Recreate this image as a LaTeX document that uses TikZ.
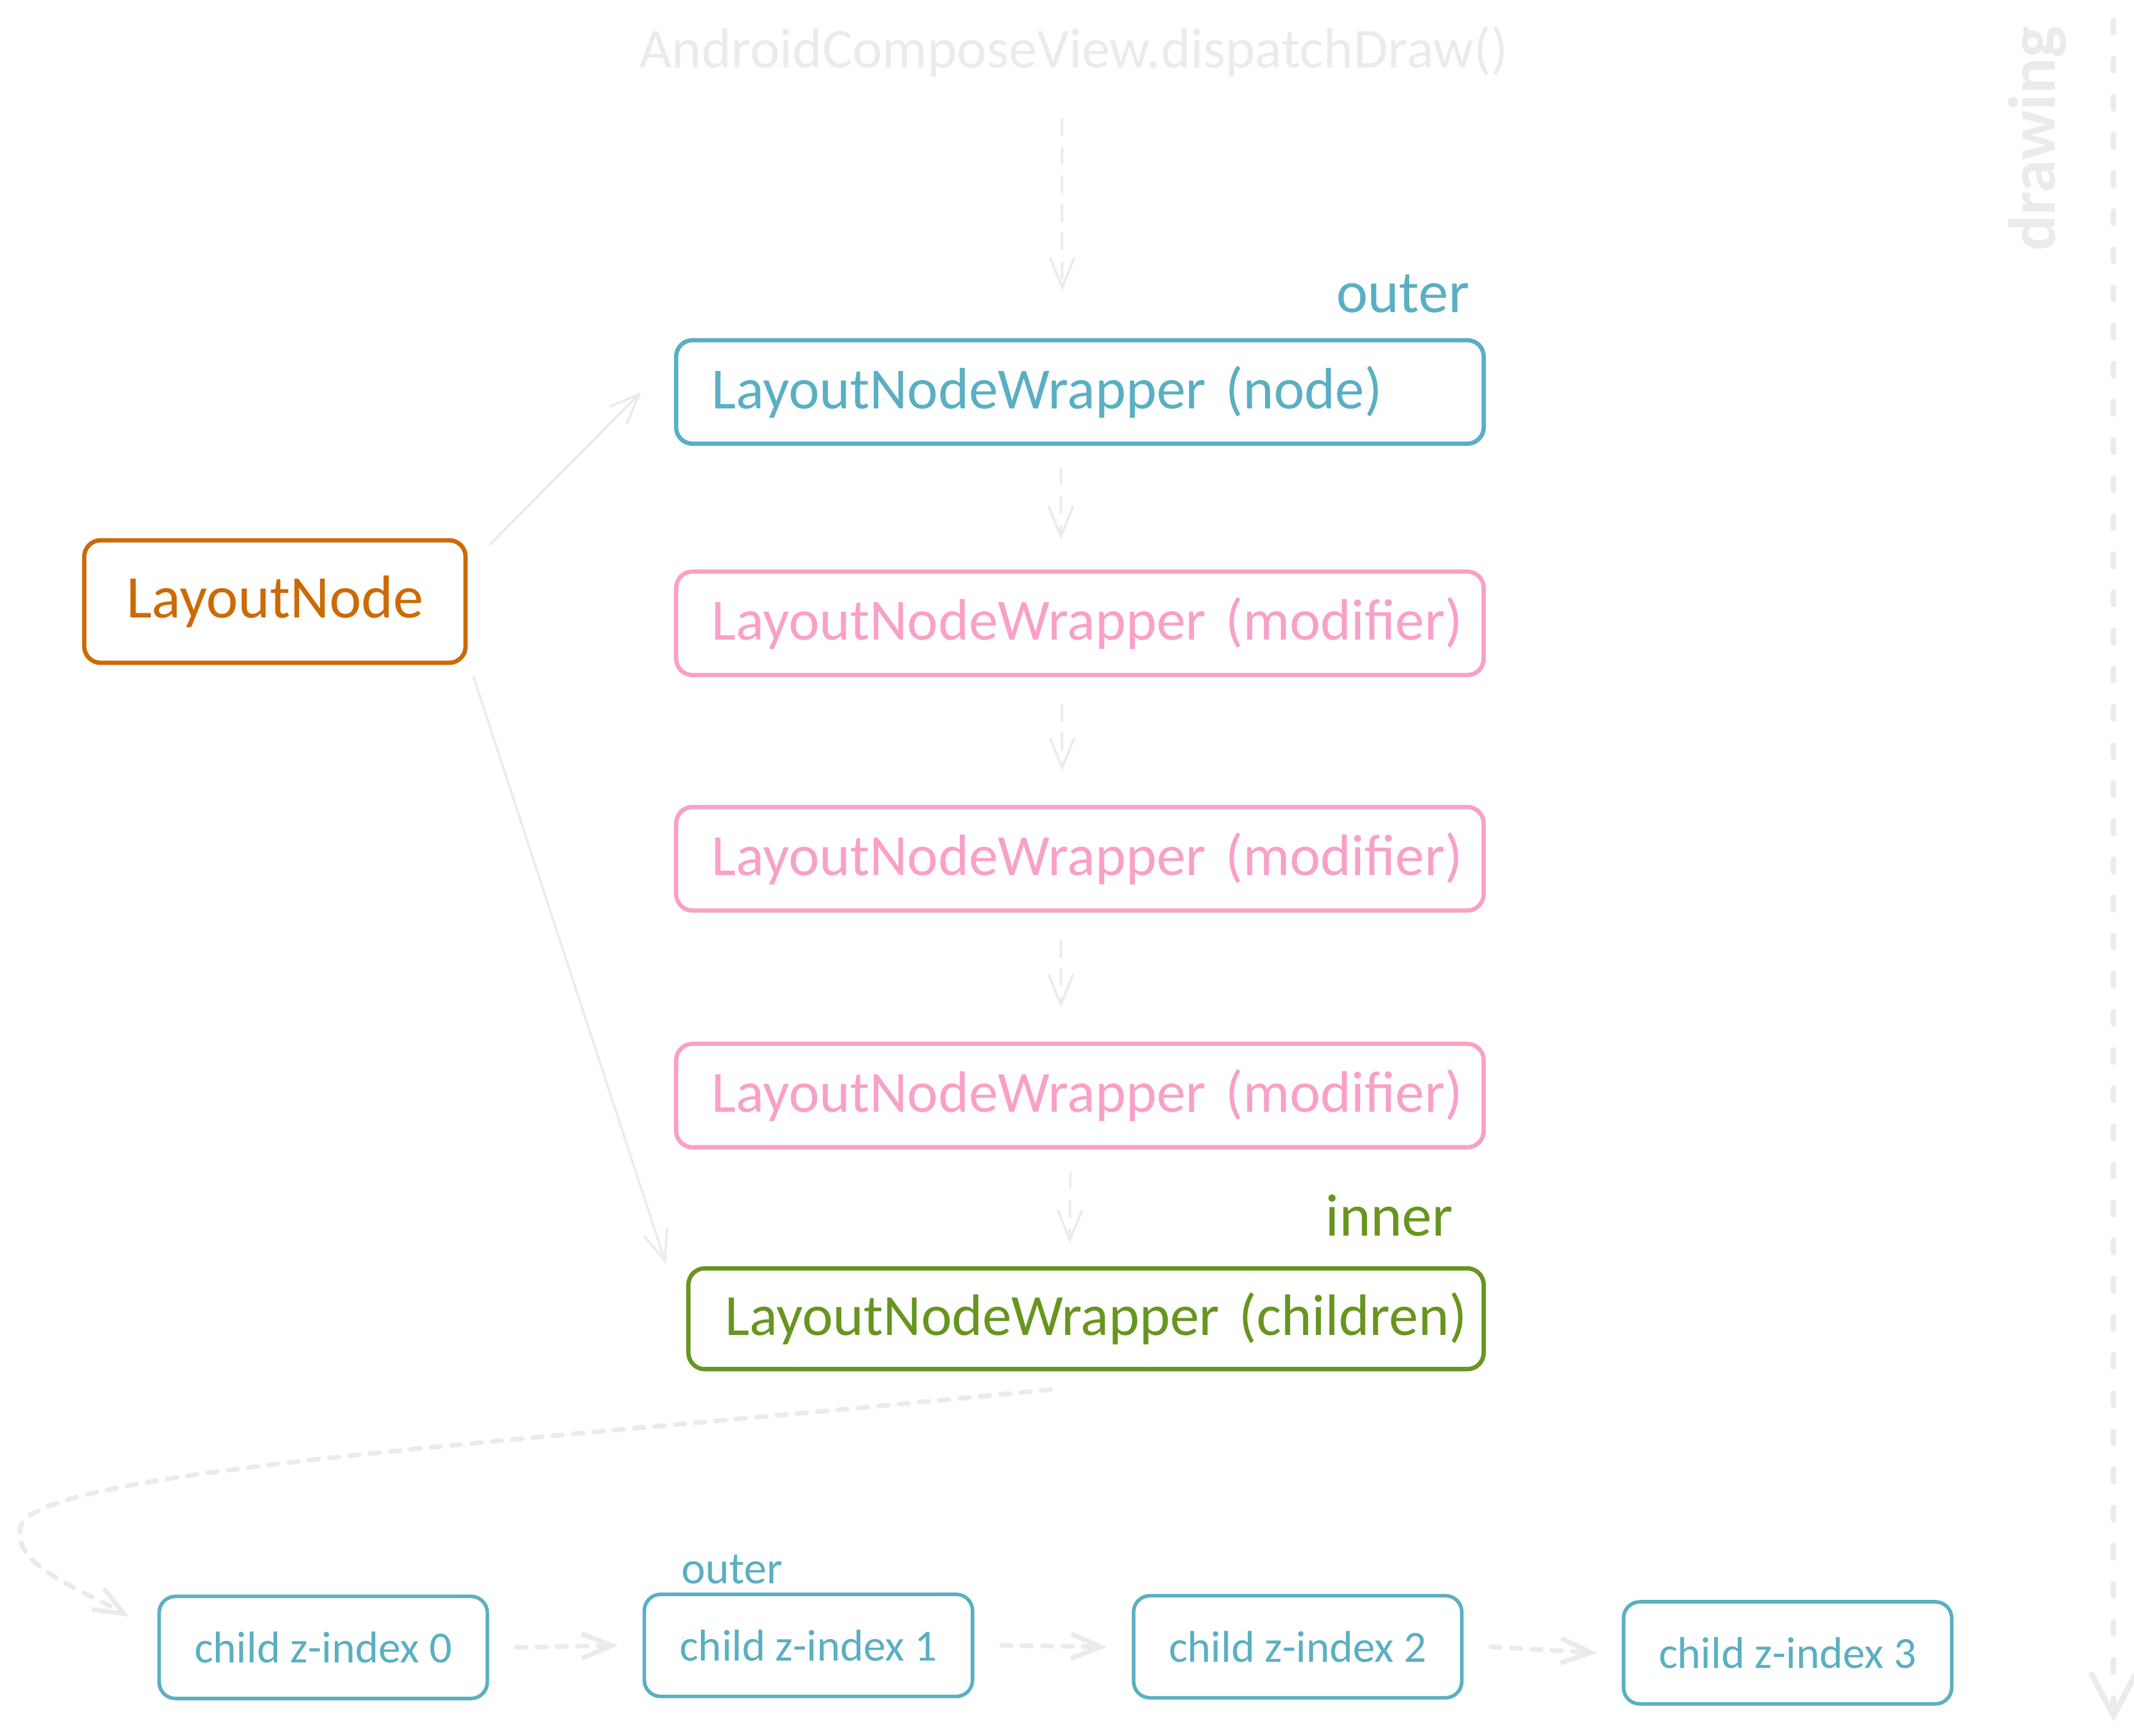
\documentclass[tikz,border=0pt]{standalone}
\usepackage{fontspec}
\setmainfont{Carlito}
\usetikzlibrary{arrows.meta}
\definecolor{wrapteal}{HTML}{5AAFC2}
\definecolor{wrappink}{HTML}{F9A0C8}
\definecolor{wrapgreen}{HTML}{67951E}
\definecolor{nodeorange}{HTML}{CC6A06}
\definecolor{flowgray}{HTML}{EBEBEB}
\tikzset{
  wrapbox/.style={draw=#1, text=#1, line width=0.9pt, rounded corners=0.12cm,
    text width=5.41cm, inner xsep=0.26cm, minimum height=0.76cm, align=left,
    execute at begin node={\hbox to 0pt\bgroup}, execute at end node={\hss\egroup},
    font=\fontsize{12.2}{14}\selectfont},
  childbox/.style={draw=wrapteal, text=wrapteal, line width=0.75pt, rounded corners=0.12cm,
    minimum width=2.41cm, minimum height=0.75cm, font=\fontsize{9.3}{11}\selectfont},
  flow/.style={draw=flowgray, line width=0.5pt, -{Straight Barb[length=0.22cm,width=0.18cm]}},
  dashflow/.style={flow, dash pattern=on 0.13cm off 0.08cm},
  thickflow/.style={flow, line width=1pt, line cap=round, dash pattern=on 0.07cm off 0.08cm}
}
\begin{document}
\begin{tikzpicture}[x=0.01cm, y=-0.01cm]
    \useasboundingbox (0,0) rectangle (1568,1275.5);
    \node[text=flowgray, font=\fontsize{11.8}{14}\selectfont] (title) at (789,38) {AndroidComposeView.dispatchDraw()};
    \node[rotate=90, text=flowgray, font=\fontsize{14}{16}\selectfont\bfseries] (drawing) at (1497,102) {drawing};
    \coordinate (railTop) at (1553,15);
    \coordinate (railEnd) at (1553,1265);
    \draw[draw=flowgray, line width=1.2pt, line cap=round, dash pattern=on 0.09cm off 0.19cm,
        -{Straight Barb[length=0.3cm,width=0.32cm,line cap=round]}] (railTop) -- (railEnd);
    % the wrapper chain
    \node[draw=nodeorange, text=nodeorange, line width=0.9pt, rounded corners=0.12cm,
        minimum width=2.8cm, minimum height=0.9cm, font=\fontsize{12.65}{15}\selectfont] (layoutNode) at (202,442) {LayoutNode};
    \node[wrapbox=wrapteal] (wrapNode) at (793.5,288) {LayoutNodeWrapper (node)};
    \node[wrapbox=wrappink] (wrapModA) at (793.5,458) {LayoutNodeWrapper (modifier)};
    \node[wrapbox=wrappink] (wrapModB) at (793.5,631) {LayoutNodeWrapper (modifier)};
    \node[wrapbox=wrappink] (wrapModC) at (793.5,805) {LayoutNodeWrapper (modifier)};
    \node[wrapbox=wrapgreen, text width=5.30cm, inner xsep=0.27cm, minimum height=0.74cm] (wrapChildren) at (798,969) {LayoutNodeWrapper (children)};
    \node[anchor=east, text=wrapteal, font=\fontsize{12.5}{14}\selectfont] (outerTop) at (1092,216) {outer};
    \node[anchor=east, text=wrapgreen, font=\fontsize{12.5}{14}\selectfont] (innerTop) at (1080,893) {inner};
    \draw[dashflow] ([shift={(-13,18)}]title.south -| wrapNode.north) -- ([shift={(-13,-35)}]wrapNode.north);
    \draw[dashflow] ([shift={(-14,16)}]wrapNode.south) -- ([shift={(-14,-22)}]wrapModA.north);
    \draw[dashflow] ([shift={(-13,20)}]wrapModA.south) -- ([shift={(-13,-25)}]wrapModB.north);
    \draw[dashflow] ([shift={(-14,20)}]wrapModB.south) -- ([shift={(-14,-25)}]wrapModC.north);
    \draw[dashflow] ([shift={(-7,16)}]wrapModC.south) -- ([shift={(-12,-17)}]wrapChildren.north);
    \draw[flow] ([shift={(16,5)}]layoutNode.north east) -- ([xshift=-0.24cm]wrapNode.west);
    \draw[flow] ([shift={(4,8)}]layoutNode.south east) -- ([shift={(-15,-2)}]wrapChildren.north west);
    % children
    \foreach \i/\cx/\cy in {0/237.5/1210.5, 1/594/1209, 2/953.5/1210, 3/1313.5/1214.5}
        \node[childbox] (child\i) at (\cx,\cy) {child z-index \i};
    \node[text=wrapteal, font=\fontsize{9.5}{11}\selectfont] (outerChild) at (538,1153) {outer};
    \coordinate (curveStart) at (772,1021);
    \coordinate (curveEnd) at (95,1188);
    \draw[thickflow] (curveStart) .. controls (380,1060) and (25,1080) .. (15,1122)
        .. controls (8,1150) and (60,1168) .. (curveEnd);
    \foreach \a/\b in {0/1, 1/2, 2/3}
        \draw[thickflow] ([xshift=0.2cm]child\a.east) -- ([xshift=-0.18cm]child\b.west);
\end{tikzpicture}
\end{document}
